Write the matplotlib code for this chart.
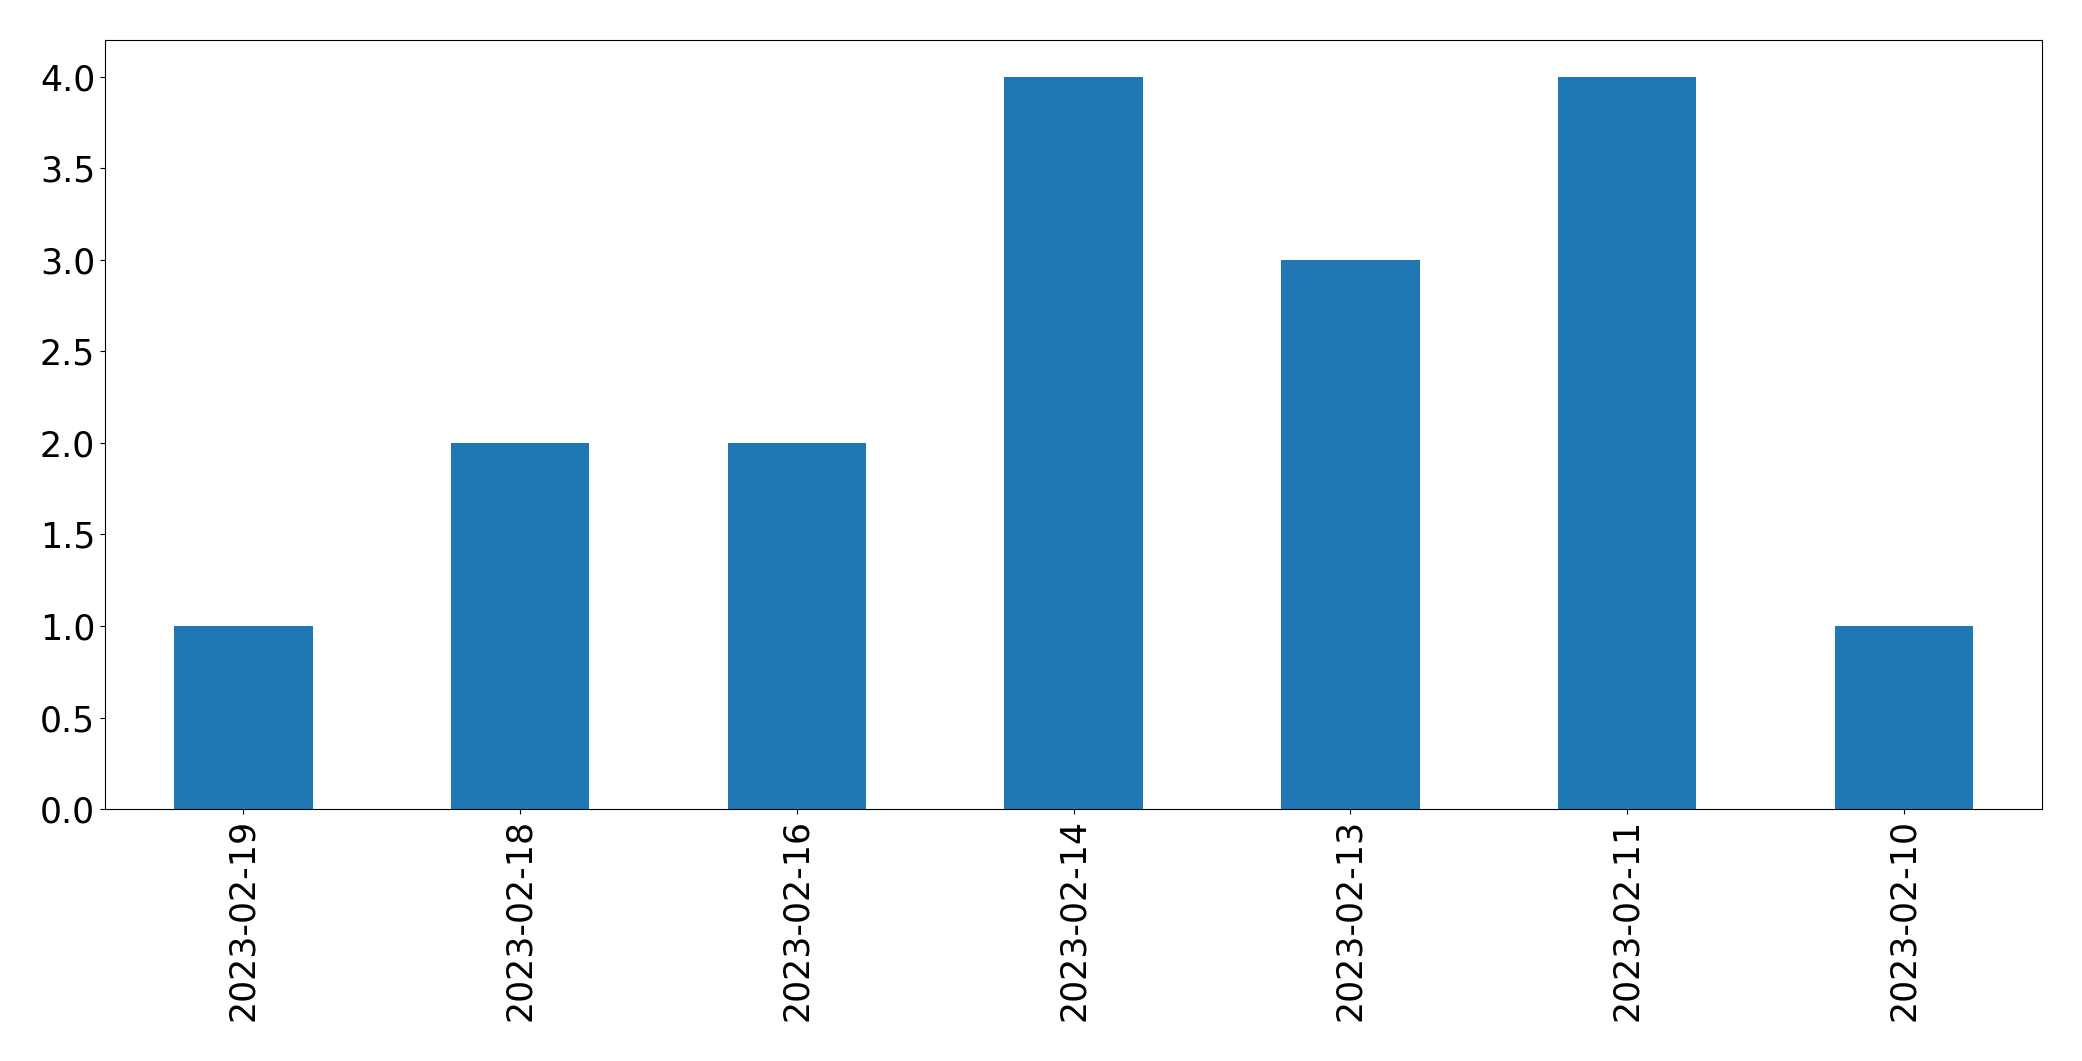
import matplotlib
matplotlib.use("Agg")
import matplotlib.pyplot as plt
import pandas as pd

# Werte
dates = ["2023-02-19", "2023-02-18", "2023-02-16", "2023-02-14",
         "2023-02-13", "2023-02-11", "2023-02-10"]
counts = [1, 2, 2, 4, 3, 4, 1]

s = pd.Series(counts, index=dates)

fig = plt.figure(figsize=(20.82, 10.61), dpi=100)
ax = fig.add_axes([0.0504, 0.2375, 0.9306, 0.7245])
s.plot(kind="bar", ax=ax, color="#1f77b4")
ax.tick_params(axis="both", labelsize=25)
ax.set_yticks([0.0, 0.5, 1.0, 1.5, 2.0, 2.5, 3.0, 3.5, 4.0])
ax.set_ylim(0, 4.2)

fig.savefig("out.png", dpi=100)
